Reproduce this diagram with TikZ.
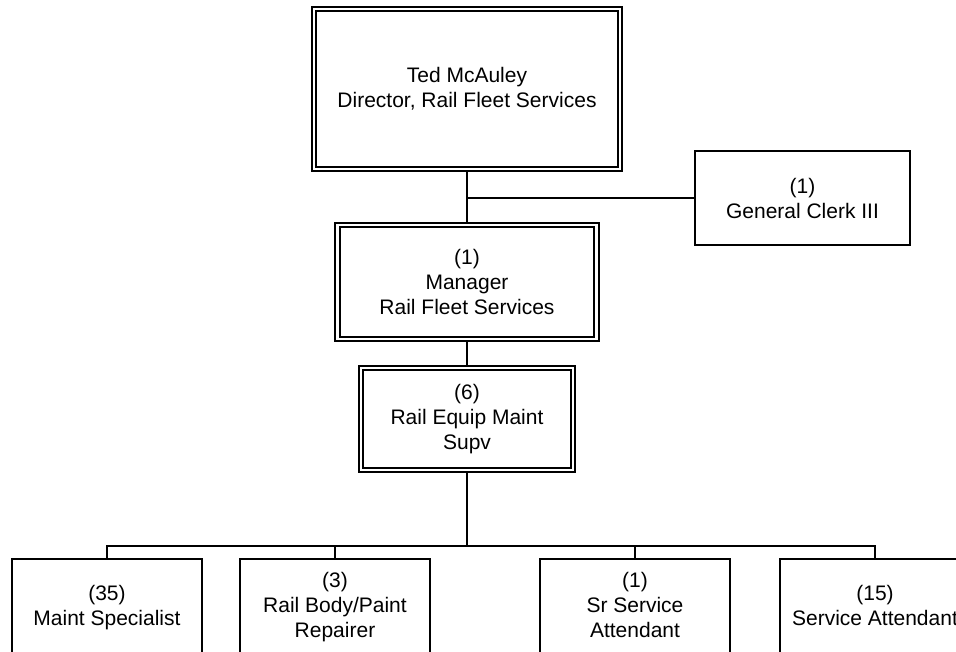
\documentclass[tikz,border=0pt]{standalone}
\usepackage{fontspec}
\setmainfont{Liberation Sans}
\usepackage{tikz}
\usetikzlibrary{positioning}

\tikzset{
  sbox/.style={draw, line width=2.2pt, align=center, inner sep=0pt},
  dbox/.style={draw, line width=2pt, double, double distance=2.6pt, outer sep=3.3pt, align=center, inner sep=0pt},
  lbox/.style={sbox, minimum width=190pt, minimum height=120pt, text depth=28pt, anchor=north},
  wire/.style={line width=2.2pt}
}

\begin{document}
\begin{tikzpicture}[x=1pt, y=-1pt, font=\fontsize{21}{25}\selectfont]
\useasboundingbox (0,0) rectangle (956,652);
\clip (0,0) rectangle (956,652);

\node[dbox, minimum width=306pt, minimum height=160pt] (dir) at (467,89)
  {Ted McAuley\\Director, Rail Fleet Services};
\node[sbox, minimum width=215pt, minimum height=94pt] (clerk) at (802.5,198)
  {(1)\\General Clerk III};
\node[dbox, minimum width=259pt, minimum height=114pt] (mgr) at (467,282)
  {(1)\\Manager\\Rail Fleet Services};
\node[dbox, minimum width=212pt, minimum height=102pt] (supv) at (467,419)
  {(6)\\Rail Equip Maint\\Supv};

\node[lbox] (maint) at (107,558) {(35)\\Maint Specialist};
\node[lbox] (body) at (335,558) {(3)\\Rail Body/Paint\\Repairer};
\node[lbox] (srsvc) at (635,558) {(1)\\Sr Service\\Attendant};
\node[lbox] (svc) at (875,558) {(15)\\Service Attendant};

% connectors
\coordinate (bus) at (467,546);
\draw[wire] (dir) -- (mgr);
\draw[wire] (dir.south |- clerk.west) -- (clerk.west);
\draw[wire] (mgr) -- (supv);
\draw[wire] (supv) -- (bus);
\draw[wire] (maint.north) |- (bus) -| (svc.north);
\foreach \n in {body,srsvc}
  \draw[wire] (\n.north) -- (\n.north |- bus);
\end{tikzpicture}
\end{document}
